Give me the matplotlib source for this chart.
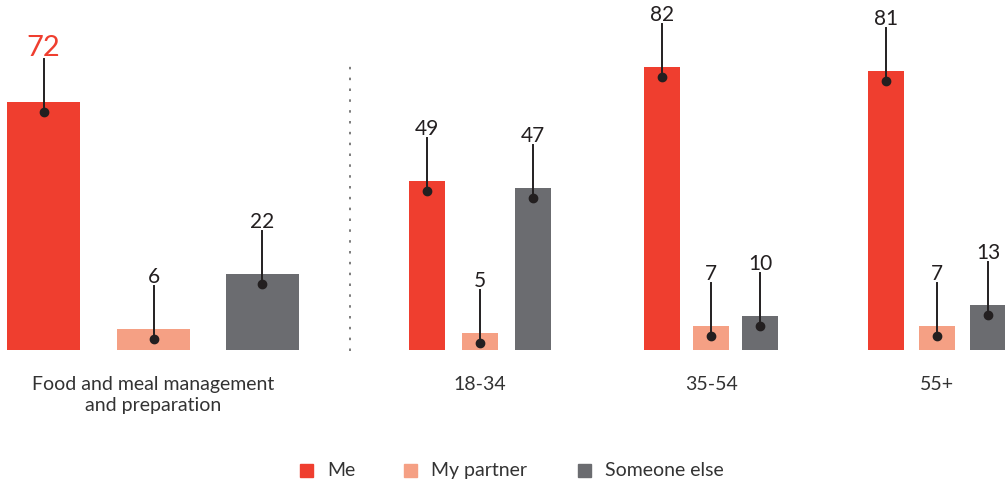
import matplotlib.pyplot as plt
from matplotlib.patches import Rectangle

# data
series = ["Me", "My partner", "Someone else"]
overall_label = "Food and meal management\nand preparation"
overall = [72, 6, 22]
age_groups = ["18-34", "35-54", "55+"]
me = [49, 82, 81]
partner = [5, 7, 7]
someone = [47, 10, 13]

colors = ["#EF3E2F", "#F5A084", "#6B6C70"]
ink = "#231F20"
plt.rcParams['font.family'] = ['Lato', 'DejaVu Sans']

# layout (pixels across the figure width)
W, H = 1005, 485
base_px = 134          # baseline distance from bottom
px_per_unit = 3.45
left_centers = [43.5, 153.5, 262]
left_width = 73
right_centers = [[427, 480, 533], [662, 711, 760], [886, 937, 988]]
right_width = 36

fig = plt.figure(figsize=(W / 100, H / 100), dpi=100)
ax = fig.add_axes([0, 0, 1, 1])
ax.set_xlim(0, W)
ax.set_ylim(-base_px / px_per_unit, (H - base_px) / px_per_unit)
ax.axis('off')

lab_off = 43 / px_per_unit
dot_off = 10 / px_per_unit
txt_off = 47 / px_per_unit


def draw_bar(x, v, w, c, big=False):
    ax.bar(x, v, width=w, color=c, linewidth=0)
    ax.plot([x, x], [v - dot_off, v + lab_off], color=ink, lw=1.4, zorder=3)
    ax.plot(x, v - dot_off, 'o', color=ink, ms=6, zorder=4)
    if big:
        ax.text(x, v + txt_off, str(v), ha='center', va='baseline',
                fontsize=21, color=colors[0])
    else:
        ax.text(x, v + txt_off, str(v), ha='center', va='baseline',
                fontsize=15, color=ink)


for i, v in enumerate(overall):
    draw_bar(left_centers[i], v, left_width, colors[i], big=(i == 0))

for g in range(len(age_groups)):
    for i, vals in enumerate([me, partner, someone]):
        draw_bar(right_centers[g][i], vals[g], right_width, colors[i])

# category labels
ax.text(left_centers[1], -(394 - 350) / px_per_unit, overall_label,
        ha='center', va='center', fontsize=14, color='#333333', linespacing=1.25)
for g, name in enumerate(age_groups):
    ax.text(right_centers[g][1], -(383 - 350) / px_per_unit, name,
            ha='center', va='center', fontsize=14, color='#333333')

# dotted divider
ax.plot([350, 350], [-1 / px_per_unit, (350 - 66) / px_per_unit],
        color='#666666', lw=1.2, linestyle=(0, (1.5, 5)))

# legend
leg_x = [300, 404, 578]
for i, name in enumerate(series):
    fig.patches.append(Rectangle((leg_x[i] / W, (H - 478) / H), 13 / W, 13 / H,
                                 transform=fig.transFigure, color=colors[i]))
    fig.text((leg_x[i] + 27) / W, (H - 471) / H, name, ha='left', va='center',
             fontsize=14, color='#333333')

fig.savefig("out.png", dpi=100)
